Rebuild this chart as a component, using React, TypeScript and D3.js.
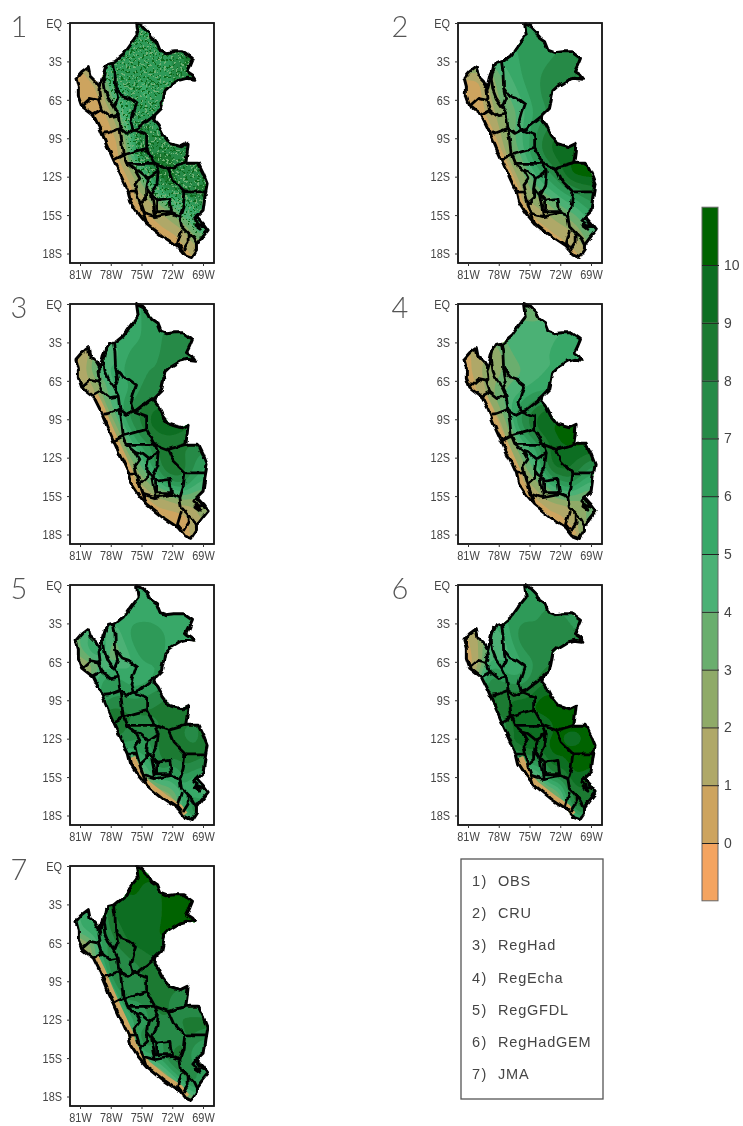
import React, { useEffect, useRef } from 'react';
import * as d3 from 'd3';

type Pt = [number, number];

const latTicks = [0, -3, -6, -9, -12, -15, -18];
const lonTicks = [-81, -78, -75, -72, -69];
const barLevels = [0, 1, 2, 3, 4, 5, 6, 7, 8, 9, 10];
const barColors = ['#f4a460', '#cda45f', '#afa868', '#8faa68', '#6bae6e', '#4cb174', '#38a868', '#2e9a58', '#278a46', '#1b7a31', '#0f6e20', '#006400'];
const modelNames = ['OBS', 'CRU', 'RegHad', 'RegEcha', 'RegGFDL', 'RegHadGEM', 'JMA'];

// sample points of the grids: 1 degree steps
const gridLons = [-82, -81, -80, -79, -78, -77, -76, -75, -74, -73, -72, -71, -70, -69, -68];
const gridLats = [0, -1, -2, -3, -4, -5, -6, -7, -8, -9, -10, -11, -12, -13, -14, -15, -16, -17, -18, -19];

// Peru, clockwise from the north tip
const peruOutline: Pt[] = [
  [-75.48, -0.03], [-74.83, -0.29], [-74.34, -0.68], [-74.02, -1.2], [-73.53, -1.46], [-73.21, -2.11], [-72.56, -2.32],
  [-71.75, -2.24], [-70.94, -2.24], [-70.03, -2.76], [-70.29, -3.28], [-70.61, -3.8], [-70.12, -4.06], [-69.8, -4.4],
  [-70.61, -4.32], [-71.26, -4.45], [-72.23, -4.92], [-72.72, -5.29], [-72.88, -6.02], [-73.05, -6.67], [-73.69, -7.19],
  [-73.79, -7.58], [-73.37, -7.97], [-72.88, -8.75], [-72.23, -9.4], [-71.75, -9.53], [-71.1, -9.66], [-70.45, -9.4],
  [-70.55, -10.18], [-70.68, -10.96], [-70.12, -10.96], [-69.47, -10.96], [-68.99, -11.74], [-68.6, -12.53], [-68.82, -13.57],
  [-68.99, -14.61], [-69.64, -15.13], [-68.99, -15.65], [-68.5, -16.17], [-69.15, -16.82], [-69.64, -17.34], [-69.64, -17.73],
  [-70.12, -18.31], [-70.77, -18.13], [-71.42, -17.47], [-72.88, -16.69], [-74.51, -15.65], [-75.32, -14.87], [-76.06, -13.96],
  [-76.29, -13.18], [-77.43, -11.22], [-78.24, -9.79], [-79.05, -8.23], [-79.7, -7.19], [-80.84, -6.48], [-81.16, -5.76],
  [-81.16, -5.03], [-81.39, -4.32], [-80.84, -3.8], [-80.19, -3.41], [-80.03, -4.06], [-79.38, -4.58], [-79.05, -5.03],
  [-78.73, -3.93], [-78.24, -3.15], [-77.59, -3.02], [-76.78, -2.5], [-75.97, -1.59], [-75.32, -0.94],
];

// department borders
const borders: Pt[][] = [
  [[-77.75, -3.02], [-77.59, -3.8], [-77.53, -5.03], [-76.88, -5.7], [-76.23, -5.89], [-75.48, -6.33], [-75.8, -7.06], [-76.03, -7.71], [-75.8, -8.36], [-75.32, -8.23], [-73.69, -7.19]],
  [[-78.5, -3.28], [-78.73, -4.32], [-78.56, -5.23], [-78.24, -5.89], [-77.66, -6.54], [-77.27, -7.19], [-77.1, -8.23]],
  [[-77.53, -5.03], [-77.33, -5.89], [-77.66, -6.54]],
  [[-77.1, -8.23], [-76.45, -8.62], [-75.8, -8.36]],
  [[-80.84, -6.48], [-80.03, -5.89], [-79.21, -6.02], [-79.05, -5.89], [-79.15, -5.23], [-79.05, -5.03]],
  [[-79.7, -7.19], [-78.89, -6.8], [-79.21, -6.02]],
  [[-78.89, -6.8], [-78.08, -7.32], [-77.27, -7.19]],
  [[-78.7, -8.6], [-78.24, -8.57], [-77.1, -8.23], [-76.94, -9.14], [-76.78, -10.31], [-77.7, -10.7]],
  [[-76.78, -10.31], [-75.64, -10.05], [-74.5, -9.79], [-74.5, -8.75], [-75.8, -8.36]],
  [[-76.78, -10.31], [-76.45, -10.96], [-74.34, -10.96], [-73.69, -10.96], [-74.5, -9.79]],
  [[-73.69, -10.96], [-72.4, -11.35], [-70.68, -10.96]],
  [[-72.4, -11.35], [-71.9, -12.27], [-70.77, -13.18], [-68.82, -13.18]],
  [[-73.69, -10.96], [-73.37, -11.61], [-74.34, -12.14], [-75.16, -11.61], [-75.64, -11.48], [-76.45, -10.96]],
  [[-76.29, -13.2], [-75.48, -13.18], [-75.64, -12.66], [-75.16, -12.14], [-75.64, -11.48]],
  [[-75.48, -13.18], [-75.16, -14.09], [-74.83, -14.87], [-74.51, -15.65]],
  [[-74.34, -12.14], [-74.5, -12.92], [-74.02, -13.44], [-73.69, -14.87], [-73.69, -15.13]],
  [[-75.16, -14.09], [-74.5, -13.6], [-74.5, -12.92]],
  [[-74.83, -14.87], [-73.69, -15.13], [-72.07, -14.87], [-71.26, -15.13]],
  [[-74.02, -13.44], [-73.53, -13.83], [-72.23, -13.7], [-72.07, -14.74], [-73.53, -14.74], [-73.53, -13.83]],
  [[-73.37, -11.61], [-73.5, -12.6], [-74.02, -13.44]],
  [[-70.77, -13.18], [-70.94, -14.35], [-71.26, -15.13], [-71.1, -15.91], [-70.45, -16.43], [-69.96, -16.82], [-69.64, -17.34]],
  [[-71.1, -16.17], [-71.49, -17.21], [-71.1, -17.6]],
  [[-70.45, -16.43], [-70.45, -17.1], [-70.94, -17.73]],
  [[-69.6, -15.1], [-69.9, -15.4], [-69.55, -15.55], [-69.8, -15.8], [-69.3, -16.1], [-69.5, -15.7], [-68.9, -15.9], [-69.2, -15.5], [-69.6, -15.1]],
];

// dry coastal strip, narrower than the grid can show
const fullCoast: Pt[] = [[-79.7, -7.19], [-79.05, -8.23], [-78.24, -9.79], [-77.43, -11.22], [-76.29, -13.18], [-76.06, -13.96], [-75.32, -14.87], [-74.51, -15.65], [-72.88, -16.69], [-71.42, -17.47], [-70.77, -18.13]];
const southCoast: Pt[] = [[-76.06, -13.5], [-75.32, -14.87], [-74.51, -15.65], [-72.88, -16.69], [-71.42, -17.47], [-70.9, -18.0]];
const panelCoasts = [fullCoast, fullCoast, fullCoast, fullCoast, southCoast, southCoast, fullCoast];
const coastWidths = [10, 8, 10, 10, 10, 10, 11];

const obsGrid = [
  [6, 6, 6, 6, 6, 6, 6, 6, 6, 6, 6, 6, 6, 6, 6],
  [6, 6, 6, 6, 6, 6, 6, 6, 6, 6, 6, 7, 7, 7, 7],
  [6, 6, 6, 6, 6, 6, 6, 6, 6, 6.5, 7, 8, 8, 8, 8],
  [1, 1, 3, 5, 7, 7, 6, 6, 6, 6, 7, 8, 9, 8, 8],
  [0.5, 0.5, 1, 3, 6, 7, 6, 6, 6, 6.5, 7, 8, 8, 8, 8],
  [0.5, 0.5, 0.5, 1, 5, 6, 6, 6, 6, 7, 7, 7, 7, 7, 7],
  [0.5, 0.5, 0.5, 0.5, 4, 5, 7, 5.5, 6, 6, 6, 6, 6, 6, 6],
  [0.5, 0.5, 0.5, 0.5, 1, 5, 6, 7, 6, 6, 6, 6, 6, 6, 6],
  [0.5, 0.5, 0.5, 0.5, 0.5, 3, 7, 7.5, 7, 6, 6, 6, 6, 6, 6],
  [0.5, 0.5, 0.5, 0.5, 0.5, 0.8, 5, 8, 8, 6.5, 7, 7, 7, 7, 7],
  [0.5, 0.5, 0.5, 0.5, 0.5, 0.8, 5, 9, 8, 8, 8, 8, 8, 8, 8],
  [0.5, 0.5, 0.5, 0.5, 0.5, 0.5, 3, 6, 8, 9, 8, 7, 7, 7, 7],
  [0.5, 0.5, 0.5, 0.5, 0.5, 0.5, 1, 3, 7, 9, 9, 7, 7, 7, 7],
  [0.5, 0.5, 0.5, 0.5, 0.5, 0.5, 0.8, 3, 3, 7, 8, 8, 9, 9, 9],
  [0.5, 0.5, 0.5, 0.5, 0.5, 0.5, 0.5, 1, 1.5, 4, 4, 5, 6, 8, 8],
  [0.5, 0.5, 0.5, 0.5, 0.5, 0.5, 0.5, 0.5, 1, 1.5, 3, 5, 5, 6, 6],
  [0.5, 0.5, 0.5, 0.5, 0.5, 0.5, 0.5, 0.5, 0.5, 0.8, 1, 1.5, 4, 6, 6],
  [0.5, 0.5, 0.5, 0.5, 0.5, 0.5, 0.5, 0.5, 0.5, 0.5, 0.5, 1, 2, 3, 3],
  [0.5, 0.5, 0.5, 0.5, 0.5, 0.5, 0.5, 0.5, 0.5, 0.5, 0.5, 0.5, 1, 2, 2],
  [0.5, 0.5, 0.5, 0.5, 0.5, 0.5, 0.5, 0.5, 0.5, 0.5, 0.5, 0.5, 0.5, 0.5, 0.5],
];

const cruGrid = [
  [6, 6, 6, 6, 6, 6, 6, 6, 6, 6, 6, 6, 6, 6, 6],
  [6, 6, 6, 6, 6, 6, 6, 6, 6, 6.5, 6.5, 6.5, 6.5, 6.5, 6.5],
  [5.5, 5.5, 5.5, 6, 6, 6, 6, 6.5, 6.5, 6.5, 7, 7, 7, 7, 7],
  [5, 5, 5, 5, 5, 5.5, 6, 6.5, 6.5, 7, 7.5, 8, 7.5, 7, 7],
  [1, 1, 1, 1.5, 4, 5, 6, 6.5, 7, 7.5, 8, 8, 7.5, 7, 7],
  [0.5, 0.5, 0.5, 2, 3.5, 4, 5.5, 6.5, 7, 7.5, 8, 8, 7.5, 7, 7],
  [0.5, 0.5, 0.5, 1.5, 3, 4, 4.5, 6, 7, 7.5, 7.5, 7.5, 7, 7, 7],
  [0.5, 0.5, 0.5, 1, 2.5, 3.5, 4, 5.5, 6.5, 7, 7, 7, 7, 7, 7],
  [0.5, 0.5, 0.5, 1, 2, 3, 4.5, 6, 7, 8, 8, 8, 8, 8, 8],
  [0.5, 0.5, 0.5, 0.8, 1.5, 3, 5, 5.5, 8, 9, 9.5, 9.5, 9, 9, 9],
  [0.5, 0.5, 0.5, 0.5, 1, 2.5, 4, 6.5, 8, 9, 10, 9.5, 9, 9, 9],
  [0.5, 0.5, 0.5, 0.5, 0.8, 1.5, 3, 5, 7, 8, 9, 10.5, 10.5, 10.5, 10.5],
  [0.5, 0.5, 0.5, 0.5, 0.5, 1, 2, 3.5, 5.5, 6.5, 8, 10.5, 10.5, 10.5, 10.5],
  [0.5, 0.5, 0.5, 0.5, 0.5, 0.8, 1.5, 3, 4, 5, 6, 7, 8, 8.5, 8.5],
  [0.5, 0.5, 0.5, 0.5, 0.5, 0.5, 1, 2, 2.5, 3, 4.5, 5, 6, 7, 7],
  [0.5, 0.5, 0.5, 0.5, 0.5, 0.5, 0.5, 0.8, 1.5, 2, 3, 3.5, 4.5, 6, 6],
  [0.5, 0.5, 0.5, 0.5, 0.5, 0.5, 0.5, 0.5, 0.5, 1, 1.5, 2, 3, 5, 5],
  [0.5, 0.5, 0.5, 0.5, 0.5, 0.5, 0.5, 0.5, 0.5, 0.5, 0.8, 1.2, 2, 4, 4],
  [0.5, 0.5, 0.5, 0.5, 0.5, 0.5, 0.5, 0.5, 0.5, 0.5, 0.5, 0.5, 1, 2, 2],
  [0.5, 0.5, 0.5, 0.5, 0.5, 0.5, 0.5, 0.5, 0.5, 0.5, 0.5, 0.5, 0.5, 0.5, 0.5],
];

const regHadGrid = [
  [6, 6, 6, 6, 6, 6, 6, 6, 6, 6, 6, 6, 6, 6, 6],
  [6, 6, 6, 6, 6, 6, 6, 6, 6, 6.5, 6.5, 6.5, 6.5, 6.5, 6.5],
  [6, 6, 6, 5.5, 5.5, 5.5, 5.5, 6, 6.5, 7, 7.5, 7.5, 7.5, 7.5, 7.5],
  [1, 1, 2, 5, 5, 5.5, 5.5, 6, 6.5, 7, 7.5, 8, 7.5, 7, 7],
  [0.5, 0.8, 1.5, 5, 3.5, 5, 6.5, 7, 7, 7, 7.5, 7.5, 7, 7, 7],
  [0.5, 1, 3, 6, 5, 6, 7, 7, 7, 7, 7, 7, 7, 7, 7],
  [0.5, 0.8, 2, 3, 5, 5.5, 6, 7, 7, 7, 7, 7, 7, 7, 7],
  [0.5, 0.5, 1, 3, 4.5, 5.5, 6, 7.5, 7.5, 7.5, 7.5, 7.5, 7.5, 7.5, 7.5],
  [0.5, 0.5, 0.8, 1.5, 4, 6, 7.5, 8, 9, 9, 9, 9, 9, 9, 9],
  [0.5, 0.5, 0.5, 0.8, 2, 5, 8, 8, 9.5, 10, 10, 10, 9, 9, 9],
  [0.5, 0.5, 0.5, 0.5, 1, 3, 6, 8, 9, 9.5, 9.5, 9, 8.5, 8.5, 8.5],
  [0.5, 0.5, 0.5, 0.5, 0.8, 2, 5, 6, 7, 8, 8, 8, 8, 8, 8],
  [0.5, 0.5, 0.5, 0.5, 0.5, 1, 3, 5, 7, 9, 9, 8, 7.5, 6, 6],
  [0.5, 0.5, 0.5, 0.5, 0.5, 0.8, 1.5, 4, 5, 8.5, 9, 9, 7, 6, 6],
  [0.5, 0.5, 0.5, 0.5, 0.5, 0.5, 0.8, 2, 3, 6, 7, 8, 5.5, 4.5, 4.5],
  [0.5, 0.5, 0.5, 0.5, 0.5, 0.5, 0.5, 0.8, 1.5, 2, 2.5, 4, 3, 3, 3],
  [0.5, 0.5, 0.5, 0.5, 0.5, 0.5, 0.5, 0.5, 0.5, 0.8, 0.8, 1, 1.5, 3, 3],
  [0.5, 0.5, 0.5, 0.5, 0.5, 0.5, 0.5, 0.5, 0.5, 0.5, 0.5, 0.5, 1, 2, 2],
  [0.5, 0.5, 0.5, 0.5, 0.5, 0.5, 0.5, 0.5, 0.5, 0.5, 0.5, 0.5, 1.5, 2, 2],
  [0.5, 0.5, 0.5, 0.5, 0.5, 0.5, 0.5, 0.5, 0.5, 0.5, 0.5, 0.5, 0.5, 0.5, 0.5],
];

const regEchaGrid = [
  [3.5, 3.5, 3.5, 3.5, 3.5, 3.5, 3.5, 3.5, 3.5, 3.5, 3.5, 3.5, 3.5, 3.5, 3.5],
  [4, 4, 4, 4, 4, 4, 3.8, 3.6, 3.6, 4, 4.5, 4.5, 4.5, 4.5, 4.5],
  [4.5, 4.5, 4.5, 4.5, 4.5, 4.5, 4.5, 4.5, 4.5, 5, 5, 5, 5, 5, 5],
  [1, 1, 2, 3, 3, 4.5, 5, 5, 5, 5, 5, 5.5, 5, 5, 5],
  [0.5, 0.8, 1, 2, 2.5, 3.5, 4.5, 5, 5, 5, 5, 5.5, 5.5, 5, 5],
  [0.5, 0.8, 1.5, 3.5, 2.5, 3.5, 3.5, 4.5, 5, 5, 5, 5, 5, 5, 5],
  [0.5, 0.5, 1, 3, 2.5, 4, 4, 4.5, 5, 5, 5, 5, 5, 5, 5],
  [0.5, 0.5, 0.8, 2.5, 4, 4.5, 5, 6, 6, 6.5, 6.5, 6.5, 6.5, 6.5, 6.5],
  [0.5, 0.5, 0.5, 1, 3, 5, 6, 7.5, 8.5, 9, 9, 9, 9, 9, 9],
  [0.5, 0.5, 0.5, 0.8, 1.5, 3.5, 8, 8, 10, 10, 10, 10, 10, 10, 10],
  [0.5, 0.5, 0.5, 0.5, 1, 2.5, 6, 8, 9.5, 10, 10.5, 10, 10, 10, 10],
  [0.5, 0.5, 0.5, 0.5, 0.8, 1.5, 4, 5, 7, 9, 10, 10.5, 10.5, 10.5, 10.5],
  [0.5, 0.5, 0.5, 0.5, 0.5, 1, 2.5, 4.5, 6, 10, 9.5, 9, 9, 8, 8],
  [0.5, 0.5, 0.5, 0.5, 0.5, 0.8, 1.5, 3.5, 4.5, 9, 9.5, 9.5, 8, 6.5, 6.5],
  [0.5, 0.5, 0.5, 0.5, 0.5, 0.5, 0.8, 2, 2.5, 5.5, 6, 8, 5.5, 4.5, 4.5],
  [0.5, 0.5, 0.5, 0.5, 0.5, 0.5, 0.5, 1, 1.5, 3, 3.5, 4, 3, 3, 3],
  [0.5, 0.5, 0.5, 0.5, 0.5, 0.5, 0.5, 0.5, 0.5, 0.8, 0.8, 1.5, 2, 4, 4],
  [0.5, 0.5, 0.5, 0.5, 0.5, 0.5, 0.5, 0.5, 0.5, 0.5, 0.8, 1, 2, 4, 4],
  [0.5, 0.5, 0.5, 0.5, 0.5, 0.5, 0.5, 0.5, 0.5, 0.5, 0.5, 1, 3, 3, 3],
  [0.5, 0.5, 0.5, 0.5, 0.5, 0.5, 0.5, 0.5, 0.5, 0.5, 0.5, 0.5, 0.5, 0.5, 0.5],
];

const regGfdlGrid = [
  [5, 5, 5, 5, 5, 5, 5, 5, 5, 5, 5, 5, 5, 5, 5],
  [5, 5, 5, 5, 5, 5, 5, 5, 5, 5, 5, 5, 5, 5, 5],
  [5.5, 5.5, 5.5, 5.5, 5.5, 5.5, 5.5, 5.5, 5.5, 5.5, 5, 5, 5, 5, 5],
  [3, 3, 5, 6, 5, 5.5, 6, 6, 6, 5.5, 5.5, 5, 5, 5, 5],
  [3, 4, 5, 6, 3, 5, 6.5, 7, 7, 6.5, 5.5, 5, 5, 5, 5],
  [3, 4, 6, 9, 2.5, 4, 5.5, 7, 7, 6, 5.5, 5.5, 5.5, 5.5, 5.5],
  [2, 2, 2.5, 3, 3, 4, 4.5, 6, 6, 6, 6, 6, 6, 6, 6],
  [1, 1, 2, 6, 7, 6, 5, 5.5, 5.5, 6.5, 6.5, 6.5, 6.5, 6.5, 6.5],
  [2, 2, 4, 7, 6, 6.5, 6, 6, 6.5, 7, 7, 7, 7, 7, 7],
  [4, 4, 5, 6, 7, 7.5, 7, 7, 7.5, 8, 8.5, 8.5, 8.5, 8.5, 8.5],
  [8, 8, 8, 8, 9, 8.5, 8, 9, 8.5, 8.5, 9, 8.5, 8.5, 8.5, 8.5],
  [8, 8, 8, 8, 9, 8, 8, 7, 7, 8, 8.5, 8, 8, 8, 8],
  [8, 8, 8, 8, 8, 9, 7, 7, 7, 9, 9, 8, 6.5, 9, 9],
  [2, 2, 2, 2, 2, 5, 6, 7, 6, 9, 9.5, 9.5, 9, 8, 8],
  [1, 1, 1, 1, 1, 1, 1.5, 5, 6, 9, 6, 8, 8, 8, 8],
  [0.5, 0.5, 0.5, 0.5, 0.5, 0.5, 0.8, 2, 5.5, 6, 5, 8, 6, 5, 5],
  [0.5, 0.5, 0.5, 0.5, 0.5, 0.5, 0.5, 0.8, 1.5, 3, 4, 5, 4, 3, 3],
  [0.5, 0.5, 0.5, 0.5, 0.5, 0.5, 0.5, 0.5, 0.5, 0.8, 1, 7, 8, 7, 7],
  [0.5, 0.5, 0.5, 0.5, 0.5, 0.5, 0.5, 0.5, 0.5, 0.5, 0.5, 3, 9, 9, 9],
  [0.5, 0.5, 0.5, 0.5, 0.5, 0.5, 0.5, 0.5, 0.5, 0.5, 0.5, 0.5, 0.5, 0.5, 0.5],
];

const regHadGemGrid = [
  [6, 6, 6, 6, 6, 6, 6, 6, 6, 6, 6, 6, 6, 6, 6],
  [6, 6, 6, 6, 6, 6, 6, 6, 6, 6.5, 6.5, 6.5, 6.5, 6.5, 6.5],
  [6.5, 6.5, 6.5, 6.5, 6.5, 6.5, 6.5, 6.5, 7, 7.5, 7, 7, 7, 7, 7],
  [1, 1, 4, 6, 5, 6, 7, 7, 7, 7.5, 7, 7, 7, 7, 7],
  [0.5, 0.8, 1.5, 3, 5, 5.5, 8, 8, 7, 7, 7, 7, 7, 7, 7],
  [0.5, 0.8, 1.5, 6, 3, 5, 6.5, 8, 7.5, 7, 7, 7, 7, 7, 7],
  [0.5, 0.5, 0.8, 5, 5, 5, 5.5, 6.5, 7.5, 8, 8, 8, 8, 8, 8],
  [0.5, 0.5, 2, 8, 7, 5.5, 5.5, 6.5, 8, 8.5, 8.5, 8.5, 8.5, 8.5, 8.5],
  [3, 3, 5, 8, 7, 8, 7, 7.5, 9.5, 9.5, 9.5, 9.5, 9.5, 9.5, 9.5],
  [7, 7, 8, 9, 8, 9, 9.5, 9.5, 10.5, 10.5, 10.5, 10.5, 10.5, 10.5, 10.5],
  [9, 9, 9, 9, 9, 9.5, 10, 10, 10.5, 10.5, 10.5, 10.5, 10.5, 10.5, 10.5],
  [4, 4, 4, 4, 4, 9, 9.5, 8.5, 8.5, 9.5, 10.5, 10.5, 10.5, 10.5, 10.5],
  [8, 8, 8, 8, 8, 9, 9, 9.5, 9, 10.5, 10, 9, 9.5, 10.5, 10.5],
  [9, 9, 9, 9, 9, 9, 9.5, 10, 9, 10.5, 10.5, 10.5, 10.5, 10.5, 10.5],
  [1, 1, 1, 1, 1, 1, 1.5, 7, 5, 10, 9, 10.5, 10.5, 10.5, 10.5],
  [0.5, 0.5, 0.5, 0.5, 0.5, 0.5, 0.8, 3, 4, 8, 7, 10, 10, 9, 9],
  [0.5, 0.5, 0.5, 0.5, 0.5, 0.5, 0.5, 0.8, 1.5, 3, 4, 8, 9, 8, 8],
  [0.5, 0.5, 0.5, 0.5, 0.5, 0.5, 0.5, 0.5, 0.5, 0.8, 2, 9, 9, 9, 9],
  [0.5, 0.5, 0.5, 0.5, 0.5, 0.5, 0.5, 0.5, 0.5, 0.5, 0.5, 4, 8, 8, 8],
  [0.5, 0.5, 0.5, 0.5, 0.5, 0.5, 0.5, 0.5, 0.5, 0.5, 0.5, 0.5, 0.5, 0.5, 0.5],
];

const jmaGrid = [
  [10.5, 10.5, 10.5, 10.5, 10.5, 10.5, 10.5, 10.5, 10.5, 10.5, 10.5, 10.5, 10.5, 10.5, 10.5],
  [10.5, 10.5, 10.5, 10.5, 10.5, 10.5, 10.5, 10, 10, 10.5, 10.5, 10.5, 10.5, 10.5, 10.5],
  [10.5, 10.5, 10.5, 10.5, 10.5, 10, 10, 10, 9.5, 10, 10.5, 10.5, 10.5, 10.5, 10.5],
  [6, 6, 6, 7, 10, 9.5, 10, 10, 9.5, 10, 10.5, 10.5, 10.5, 10.5, 10.5],
  [3, 5, 5, 6, 8.5, 9.5, 9.5, 9.5, 9.5, 10, 10.5, 10.5, 10.5, 10.5, 10.5],
  [3, 6, 6, 8, 8, 9, 9.5, 9.5, 10, 10, 10.5, 10.5, 10.5, 10.5, 10.5],
  [1, 1.5, 2, 5, 7.5, 8.5, 9.5, 9.5, 10, 10, 10, 10, 10, 10, 10],
  [0.5, 0.5, 2, 7, 8, 7, 8, 8.5, 9, 9, 9, 9, 9, 9, 9],
  [0.5, 0.5, 1, 3, 8.5, 8.5, 7.5, 8, 8.5, 9, 9, 9, 9, 9, 9],
  [0.5, 0.5, 0.5, 2, 7, 9, 6.5, 8, 8.5, 8.5, 8.5, 8.5, 8, 8, 8],
  [0.5, 0.5, 0.5, 1, 3, 8.5, 7, 8, 8.5, 8.5, 8, 7.5, 7.5, 7.5, 7.5],
  [0.5, 0.5, 0.5, 0.5, 1.5, 6, 7, 6, 8, 8.5, 7.5, 7, 7, 7, 7],
  [0.5, 0.5, 0.5, 0.5, 0.5, 3, 7, 5.5, 7.5, 8, 8.5, 8.5, 8.5, 8.5, 8.5],
  [0.5, 0.5, 0.5, 0.5, 0.5, 1.5, 5, 8.5, 6.5, 8, 5, 8, 8.5, 8, 8],
  [0.5, 0.5, 0.5, 0.5, 0.5, 0.5, 3, 8.5, 7.5, 6, 8.5, 8.5, 7, 6, 6],
  [0.5, 0.5, 0.5, 0.5, 0.5, 0.5, 0.5, 4, 6, 7, 8.5, 8.5, 6, 5, 5],
  [0.5, 0.5, 0.5, 0.5, 0.5, 0.5, 0.5, 0.5, 2, 3, 7, 8, 8.5, 6, 6],
  [0.5, 0.5, 0.5, 0.5, 0.5, 0.5, 0.5, 0.5, 0.5, 0.5, 2, 6, 8, 6, 6],
  [0.5, 0.5, 0.5, 0.5, 0.5, 0.5, 0.5, 0.5, 0.5, 0.5, 0.5, 1, 4, 6, 6],
  [0.5, 0.5, 0.5, 0.5, 0.5, 0.5, 0.5, 0.5, 0.5, 0.5, 0.5, 0.5, 0.5, 0.5, 0.5],
];

const panelGrids = [obsGrid, cruGrid, regHadGrid, regEchaGrid, regGfdlGrid, regHadGemGrid, jmaGrid];

const panelLefts = [70, 458];
const panelTops = [23, 304, 585, 866];
const numberXs = [19, 400];
const font = '"Liberation Sans", sans-serif';
const textColor = '#444';
const UP = 4; // field refinement per grid step

// refine a coarse grid for drawing only, so the colour bands come out round
const refine = (grid: number[][]) => {
  const rows = grid.length;
  const cols = grid[0].length;
  const width = (cols - 1) * UP + 1;
  const height = (rows - 1) * UP + 1;
  const data = new Float64Array(width * height);
  for (let j = 0; j < height; j++) {
    const r = Math.min(Math.floor(j / UP), rows - 2);
    const fy = j / UP - r;
    for (let i = 0; i < width; i++) {
      const c = Math.min(Math.floor(i / UP), cols - 2);
      const fx = i / UP - c;
      data[j * width + i] = (grid[r][c] * (1 - fx) + grid[r][c + 1] * fx) * (1 - fy)
        + (grid[r + 1][c] * (1 - fx) + grid[r + 1][c + 1] * fx) * fy;
    }
  }
  d3.blur2({ data, width, height }, 1.6);
  return { data, width, height };
};

const App = () => {
  const svgRef = useRef<SVGSVGElement>(null);

  useEffect(() => {
    const svg = d3.select(svgRef.current);
    svg.selectAll('*').remove();

    const defs = svg.append('defs');
    const soft = defs.append('filter').attr('id', 'soft').attr('x', 0).attr('y', 0).attr('width', 1).attr('height', 1);
    soft.append('feGaussianBlur').attr('stdDeviation', 0.45);

    // jagged look of the low resolution map lines
    const rough = defs.append('filter').attr('id', 'rough').attr('x', '-5%').attr('y', '-5%').attr('width', '110%').attr('height', '110%');
    rough.append('feTurbulence').attr('type', 'fractalNoise').attr('baseFrequency', 0.1).attr('numOctaves', 2).attr('seed', 5).attr('result', 'n');
    rough.append('feDisplacementMap').attr('in', 'SourceGraphic').attr('in2', 'n').attr('scale', 5).attr('xChannelSelector', 'R').attr('yChannelSelector', 'G');

    // grainy texture of the station panel
    const addGrain = (id: string, seed: number) => {
      const f = defs.append('filter').attr('id', id).attr('x', 0).attr('y', 0).attr('width', 1).attr('height', 1);
      f.append('feTurbulence').attr('type', 'fractalNoise').attr('baseFrequency', 0.42).attr('numOctaves', 2).attr('seed', seed).attr('result', 'n');
      const ct = f.append('feComponentTransfer').attr('in', 'n').attr('result', 'a');
      ct.append('feFuncA').attr('type', 'discrete').attr('tableValues', '0 0 0 0 0 1 1 1');
      f.append('feComposite').attr('in', 'SourceGraphic').attr('in2', 'a').attr('operator', 'in');
    };
    addGrain('grainLight', 3);
    addGrain('grainDark', 8);

    const root = svg.append('g').attr('filter', 'url(#soft)');
    root.append('rect').attr('width', 743).attr('height', 1126).attr('fill', 'white');

    const color = d3.scaleThreshold<number, string>().domain(barLevels).range(barColors);

    panelGrids.forEach((grid, idx) => {
      const left = panelLefts[idx % 2];
      const top = panelTops[Math.floor(idx / 2)];
      const g = root.append('g');

      const x = d3.scaleLinear().domain([-81, -69]).range([left + 10, left + 133]);
      const y = d3.scaleLinear().domain([0, -18]).range([top, top + 230.5]);
      const line = d3.line<Pt>().x(d => x(d[0])).y(d => y(d[1]));
      const outlineD = line(peruOutline) + 'Z';

      defs.append('clipPath').attr('id', `peru${idx}`).append('path').attr('d', outlineD);

      const project = d3.geoTransform({
        point(px: number, py: number) {
          (this as any).stream.point(x(gridLons[0] + (px - 0.5) / UP), y(gridLats[0] - (py - 0.5) / UP));
        },
      });
      const gridPath = d3.geoPath(project);
      const fine = refine(grid);
      const contours = d3.contours().size([fine.width, fine.height]).smooth(true);
      const flat = Array.from(fine.data);

      const field = g.append('g').attr('clip-path', `url(#peru${idx})`);
      [-1, ...barLevels].forEach(t => {
        const c = contours.contour(flat, t);
        field.append('path').attr('d', gridPath(c as any)).attr('fill', color(t));
      });
      field.append('path').attr('d', line(panelCoasts[idx]))
        .attr('fill', 'none').attr('stroke', barColors[1]).attr('stroke-width', coastWidths[idx]);

      if (idx === 0) {
        defs.append('clipPath').attr('id', 'wet').append('path').attr('d', gridPath(contours.contour(flat, 3.5) as any));
        const grain = field.append('g').attr('clip-path', 'url(#wet)');
        grain.append('rect').attr('x', left).attr('y', top).attr('width', 144).attr('height', 240)
          .attr('fill', '#6fb274').attr('filter', 'url(#grainLight)');
        grain.append('rect').attr('x', left).attr('y', top).attr('width', 144).attr('height', 240)
          .attr('fill', '#0c6a1f').attr('filter', 'url(#grainDark)');
      }

      // borders on top of the field
      const lines = g.append('g').attr('filter', 'url(#rough)');
      lines.selectAll('path.border').data(borders).enter().append('path')
        .attr('class', 'border')
        .attr('d', d => line(d))
        .attr('fill', 'none').attr('stroke', '#000').attr('stroke-width', 2.8).attr('stroke-linejoin', 'round');
      lines.append('path').attr('d', outlineD).attr('fill', 'none').attr('stroke', '#000').attr('stroke-width', 3).attr('stroke-linejoin', 'round');

      // frame
      g.append('rect').attr('x', left).attr('y', top).attr('width', 144).attr('height', 240)
        .attr('fill', 'none').attr('stroke', '#111').attr('stroke-width', 1.8);

      const yAxis = d3.axisLeft(y).tickValues(latTicks).tickSize(3).tickPadding(5)
        .tickFormat(d => (+d === 0 ? 'EQ' : `${-d}S`));
      const xAxis = d3.axisBottom(x).tickValues(lonTicks).tickSize(3).tickPadding(4)
        .tickFormat(d => `${-d}W`);
      [g.append('g').attr('transform', `translate(${left},0)`).call(yAxis as any),
        g.append('g').attr('transform', `translate(0,${top + 240})`).call(xAxis as any)].forEach(a => {
        a.select('.domain').remove();
        a.selectAll('line').attr('stroke', '#333');
        a.selectAll('text').attr('fill', textColor).style('font', `13px ${font}`)
          .each(function () {
            // the plot lettering is taller and narrower than the font
            const el = this as SVGTextElement;
            el.setAttribute('textLength', String(el.getComputedTextLength() * 0.84));
            el.setAttribute('lengthAdjust', 'spacingAndGlyphs');
          });
      });

      g.append('text').attr('x', numberXs[idx % 2]).attr('y', top + 14)
        .attr('text-anchor', 'middle')
        .style('font', `300 29px Lato, ${font}`).attr('fill', '#555')
        .text(idx + 1);
    });

    // colour bar
    const barX = 702;
    const barW = 16;
    const barY = d3.scaleLinear().domain([0, 10]).range([843, 265]);
    const barEdges = [-1, ...barLevels, 11];
    const bar = root.append('g');
    bar.selectAll('rect').data(barColors).enter().append('rect')
      .attr('x', barX).attr('width', barW)
      .attr('y', (_, i) => barY(barEdges[i + 1]))
      .attr('height', (_, i) => barY(barEdges[i]) - barY(barEdges[i + 1]))
      .attr('fill', d => d);
    bar.append('rect').attr('x', barX).attr('y', barY(11)).attr('width', barW).attr('height', barY(-1) - barY(11))
      .attr('fill', 'none').attr('stroke', '#666').attr('stroke-width', 1);
    const barAxis = d3.axisRight(barY).tickValues(barLevels).tickSize(barW + 1).tickPadding(5).tickFormat(d3.format('d') as any);
    const ba = bar.append('g').attr('transform', `translate(${barX},0)`).call(barAxis as any);
    ba.select('.domain').remove();
    ba.selectAll('line').attr('stroke', '#222');
    ba.selectAll('text').attr('fill', textColor).style('font', `14px ${font}`);

    // key box
    const key = root.append('g');
    key.append('rect').attr('x', 461).attr('y', 859).attr('width', 142).attr('height', 240)
      .attr('fill', 'white').attr('stroke', '#555').attr('stroke-width', 1.3);
    const keyY = d3.scalePoint<string>().domain(modelNames).range([881, 1074]);
    modelNames.forEach((name, i) => {
      const rowY = keyY(name) as number;
      key.append('text').attr('x', 472).attr('y', rowY + 5).text(`${i + 1})`)
        .attr('fill', textColor).style('font', `14.5px ${font}`).style('letter-spacing', '1.5px');
      key.append('text').attr('x', 498).attr('y', rowY + 5).text(name)
        .attr('fill', textColor).style('font', `14.5px ${font}`).style('letter-spacing', '0.8px');
    });
  }, []);

  return <svg ref={svgRef} width={743} height={1126} style={{ position: 'absolute', left: 0, top: 0, display: 'block' }} />;
};

export default App;
